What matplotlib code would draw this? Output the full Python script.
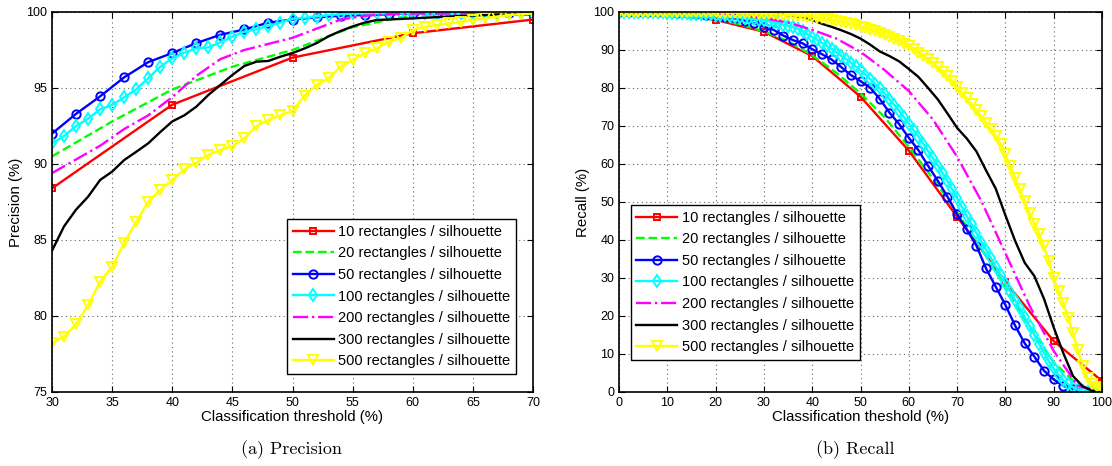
"""
Precision / recall curves against the classification threshold for
different numbers of rectangles per silhouette.
"""

import matplotlib

matplotlib.use("Agg")
import matplotlib.pyplot as plt
import numpy as np

plt.rcParams["font.family"] = ["Liberation Sans", "DejaVu Sans"]

LABELS = [f"{n} rectangles / silhouette" for n in (10, 20, 50, 100, 200, 300, 500)]

# ---- Precision (left panel) ----
prec_t10 = [30, 40, 50, 60, 70]
prec_10 = [88.4, 93.9, 97.0, 98.6, 99.5]

prec_t20 = [30, 35, 40, 45, 50, 55, 60, 65, 70]
prec_20 = [90.5, 92.8, 94.9, 96.4, 97.5, 99.0, 99.8, 99.9, 99.9]

prec_t50 = list(range(30, 71, 2))
prec_50 = [92.0, 93.3, 94.45, 95.7, 96.7, 97.3, 97.95, 98.5, 98.85, 99.3, 99.5,
           99.65, 99.75, 99.8, 99.85, 99.9, 99.9, 99.9, 99.9, 99.9, 99.9]

prec_t100 = list(range(30, 71))
prec_100 = [91.36, 91.84, 92.5, 92.98, 93.6, 93.88, 94.39, 94.91, 95.64, 96.4,
            96.95, 97.32, 97.61, 97.67, 98.0, 98.38, 98.7, 98.86, 99.1, 99.3,
            99.55, 99.62, 99.7, 99.8, 99.85, 99.9, 99.9, 99.9, 99.9, 99.9,
            99.9, 99.9, 99.9, 99.9, 99.9, 99.9, 99.9, 99.9, 99.9, 99.9, 99.9]

prec_t200 = list(range(30, 71, 2))
prec_200 = [89.4, 90.3, 91.2, 92.3, 93.2, 94.4, 95.8, 96.9, 97.5, 97.9, 98.3,
            98.9, 99.5, 99.75, 99.85, 99.9, 99.9, 99.9, 99.9, 99.9, 99.9]

prec_t300 = list(range(30, 58)) + [60, 63, 66, 70]
prec_300 = [84.3, 85.9, 87.0, 87.85, 88.95, 89.5, 90.26, 90.8, 91.36, 92.1,
            92.8, 93.2, 93.77, 94.54, 95.2, 95.86, 96.45, 96.73, 96.78, 97.06,
            97.3, 97.6, 97.95, 98.4, 98.75, 99.05, 99.3, 99.47,
            99.58, 99.7, 99.8, 99.85]

prec_t500 = list(range(30, 71))
prec_500 = [78.24, 78.64, 79.47, 80.72, 82.26, 83.24, 84.82, 86.2, 87.52, 88.29,
            88.95, 89.65, 90.09, 90.59, 90.92, 91.18, 91.69, 92.5, 92.9, 93.2,
            93.5, 94.5, 95.2, 95.64, 96.4, 96.84, 97.28, 97.6, 98.05, 98.27,
            98.8, 99.03, 99.14, 99.25, 99.36, 99.47, 99.58, 99.7, 99.8, 99.85, 99.9]

# ---- Recall (right panel) ----
rec_t10 = list(range(0, 101, 10))
rec_10 = [100, 99.6, 97.9, 94.8, 88.4, 77.7, 63.5, 46.1, 29.0, 13.4, 2.9]

rec_t20 = list(range(0, 101, 5))
rec_20 = [100, 99.9, 99.6, 99.1, 98.2, 96.8, 94.9, 92.3, 88.6, 84.0, 78.6,
          72.3, 64.5, 56.2, 47.3, 37.8, 27.5, 17.2, 7.8, 1.8, 0.0]

rec_t50 = list(range(0, 101, 2))
rec_50 = [100, 100, 100, 100, 99.95, 99.9, 99.8, 99.65, 99.5, 99.25, 98.95,
          98.6, 98.3, 97.7, 97.0, 96.1, 95.3, 93.8, 92.6, 91.75, 90.2,
          88.9, 87.5, 85.5, 83.4, 81.8, 80.1, 77.1, 73.5, 70.5, 66.9,
          63.6, 59.5, 55.6, 51.4, 46.8, 42.8, 38.5, 32.5, 27.7, 22.9,
          17.5, 12.8, 9.3, 5.6, 3.3, 1.6, 0.7, 0.2, 0.05, 0.0]

rec_t100 = list(range(0, 101))
rec_100 = [100, 100, 100, 100, 100, 100, 99.95, 99.95, 99.9, 99.9,
           99.85, 99.8, 99.75, 99.7, 99.6, 99.55, 99.5, 99.45, 99.4, 99.35,
           99.3, 99.2, 99.1, 98.95, 98.8, 98.65, 98.5, 98.35, 98.2, 98.0,
           97.8, 97.6, 97.3, 97.0, 96.7, 96.4, 96.0, 95.6, 94.9, 94.2,
           93.4, 92.7, 91.9, 91.1, 90.3, 89.4, 88.5, 87.6, 86.7, 85.7,
           84.6, 83.5, 82.3, 81.1, 79.9, 78.5, 77.0, 75.5, 74.0, 72.3,
           70.6, 68.9, 67.2, 65.3, 63.4, 61.5, 59.6, 57.6, 55.5, 53.3,
           51.0, 48.6, 46.3, 44.1, 41.8, 39.6, 37.4, 35.2, 33.0, 30.8,
           28.6, 26.4, 24.2, 22.0, 19.7, 17.4, 15.0, 12.6, 10.3, 8.1,
           6.2, 4.5, 3.1, 2.0, 1.2, 0.6, 0.3, 0.1, 0.0, 0.0, 0.0]

rec_t200 = list(range(0, 101, 5))
rec_200 = [100, 100, 99.95, 99.9, 99.6, 99.1, 98.4, 97.2, 95.3, 93.0, 89.5,
           84.7, 79.2, 71.7, 61.9, 50.3, 36.5, 22.7, 10.8, 1.6, 0.0]

rec_t300 = [0, 10, 20, 30, 34] + list(range(36, 101, 2))
rec_300 = [100, 100, 99.9, 99.6, 99.3, 99.0, 98.6, 97.9, 96.9, 96.1, 95.2,
           94.2, 93.0, 91.4, 89.6, 88.4, 87.0, 85.0, 82.9, 80.0, 77.0,
           73.3, 69.5, 66.7, 63.3, 58.3, 53.5, 46.5, 39.8, 34.0, 30.5,
           24.5, 17.0, 10.2, 4.2, 1.5, 0.3, 0.0]

rec_t500 = list(range(0, 101))
rec_500 = [100, 100, 100, 100, 100, 100, 100, 100, 100, 100,
           100, 100, 100, 100, 100, 100, 99.95, 99.95, 99.9, 99.9,
           99.9, 99.85, 99.85, 99.8, 99.8, 99.75, 99.7, 99.65, 99.6, 99.55,
           99.5, 99.45, 99.4, 99.3, 99.25, 99.2, 99.1, 99.0, 98.9, 98.8,
           98.7, 98.5, 98.3, 98.1, 97.9, 97.7, 97.4, 97.1, 96.8, 96.5,
           96.1, 95.7, 95.3, 94.9, 94.4, 93.9, 93.4, 92.9, 92.3, 91.7,
           91.0, 90.2, 89.3, 88.4, 87.5, 86.5, 85.4, 84.3, 83.1, 81.8,
           80.3, 78.8, 77.3, 75.8, 74.2, 72.6, 70.9, 69.2, 67.3, 65.2,
           62.5, 59.5, 56.4, 53.3, 50.2, 47.0, 44.3, 41.5, 38.3, 34.5,
           30.0, 26.5, 23.3, 19.6, 15.5, 11.0, 6.8, 3.6, 2.0, 1.2, 0.8]

STYLES = [
    dict(color="red", ls="-", marker="s", ms=5),
    dict(color="#00ff00", ls="--", marker=None, ms=0),
    dict(color="blue", ls="-", marker="o", ms=6),
    dict(color="cyan", ls="-", marker="d", ms=6),
    dict(color="magenta", ls="-.", marker=None, ms=0),
    dict(color="black", ls="-", marker=None, ms=0),
    dict(color="yellow", ls="-", marker="v", ms=7),
]


def draw_series(ax, series):
    for (t, v), label, st in zip(series, LABELS, STYLES):
        ax.plot(
            t, v,
            color=st["color"], ls=st["ls"], lw=1.7,
            marker=st["marker"], ms=st["ms"], mfc="none", mew=1.4,
            label=label,
        )


def style_axis(ax):
    ax.grid(True, ls=(0, (1, 3)), color="#666666", lw=0.8)
    ax.tick_params(direction="in", labelsize=9, length=4, top=True, right=True)
    for sp in ax.spines.values():
        sp.set_linewidth(1.2)


def add_legend(ax, loc, anchor):
    leg = ax.legend(loc=loc, bbox_to_anchor=anchor, fontsize=10.5,
                    fancybox=False, framealpha=1, edgecolor="black", handlelength=2.8,
                    borderpad=0.4, labelspacing=0.52, handletextpad=0.3, borderaxespad=0)
    leg.get_frame().set_linewidth(1.0)


fig = plt.figure(figsize=(11.12, 4.66), dpi=100)
ax1 = fig.add_axes([0.0468, 0.1588, 0.4325, 0.8155])
ax2 = fig.add_axes([0.5567, 0.1588, 0.4343, 0.8155])

draw_series(ax1, [(prec_t10, prec_10), (prec_t20, prec_20), (prec_t50, prec_50),
                  (prec_t100, prec_100), (prec_t200, prec_200), (prec_t300, prec_300),
                  (prec_t500, prec_500)])
ax1.set_xlim(30, 70)
ax1.set_ylim(75, 100)
ax1.set_xticks(np.arange(30, 71, 5))
ax1.set_yticks(np.arange(75, 101, 5))
ax1.set_xlabel("Classification threshold (%)", fontsize=10.8, labelpad=1)
ax1.set_ylabel("Precision (%)", fontsize=10.8, labelpad=2)
style_axis(ax1)
add_legend(ax1, "lower right", (0.965, 0.047))

draw_series(ax2, [(rec_t10, rec_10), (rec_t20, rec_20), (rec_t50, rec_50),
                  (rec_t100, rec_100), (rec_t200, rec_200), (rec_t300, rec_300),
                  (rec_t500, rec_500)])
ax2.set_xlim(0, 100)
ax2.set_ylim(0, 100)
ax2.set_xticks(np.arange(0, 101, 10))
ax2.set_yticks(np.arange(0, 101, 10))
ax2.set_xlabel("Classification theshold (%)", fontsize=10.8, labelpad=1)
ax2.set_ylabel("Recall (%)", fontsize=10.8, labelpad=2)
style_axis(ax2)
add_legend(ax2, "lower left", (0.024, 0.084))

fig.text(0.262, 0.026, "(a) Precision", fontsize=13, family="cmr10", ha="center")
fig.text(0.769, 0.026, "(b) Recall", fontsize=13, family="cmr10", ha="center")

fig.savefig("out.png", dpi=100)
